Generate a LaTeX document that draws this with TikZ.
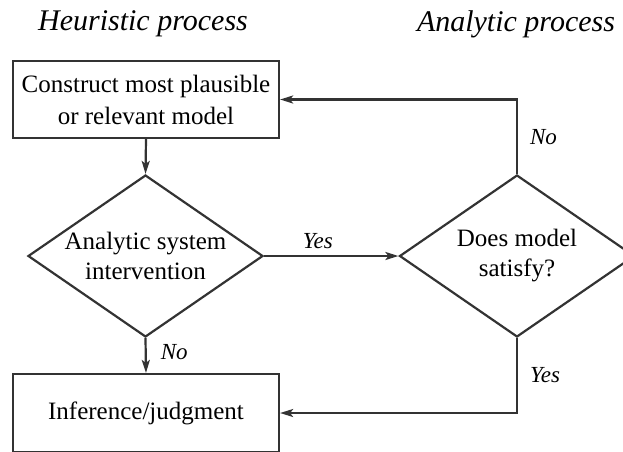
\documentclass[tikz,border=0pt]{standalone}
\usepackage{fontspec}
\setmainfont{Liberation Serif}
\usetikzlibrary{shapes.geometric,arrows.meta}
\begin{document}
\begin{tikzpicture}[x=1pt,y=-1pt,
  line/.style={draw=black!80, line width=2.2pt},
  arr/.style={line, -{Stealth[length=13pt,width=8pt,inset=3pt]}},
  box/.style={line, rectangle, minimum width=266pt, inner sep=0pt, align=center, font=\fontsize{25}{32}\selectfont},
  dia/.style={line, diamond, minimum width=235pt, minimum height=162pt, inner sep=0pt},
  dtext/.style={align=center, font=\fontsize{25}{30}\selectfont},
  lbl/.style={font=\fontsize{23}{26}\selectfont\itshape, inner sep=1pt},
  title/.style={font=\fontsize{30}{34}\selectfont\itshape}]
\useasboundingbox (0,0) rectangle (623,451);
\node[title] (th) at (143,24) {Heuristic process};
\node[title] (ta) at (516,24) {Analytic process};
\node[box, minimum height=77pt] (b1) at (146,99.5) {Construct most plausible\\or relevant model};
\node[dia, label={[dtext]center:Analytic system\\intervention}] (d1) at (145.5,256) {};
\node[dia, label={[dtext]center:Does model\\satisfy?}] (d2) at (517,256) {};
\node[box, minimum height=78pt] (b2) at (146,413) {Inference/judgment};
\draw[arr] (b1.south) -- (d1.north);
\draw[arr] (d1.east) -- node[lbl, above=5pt, pos=0.4] (yes1) {Yes} (d2.west);
\draw[arr] (d1.south) -- node[lbl, right=13pt, pos=0.4] (no1) {No} (b2.north);
\draw[arr] (d2.north) -- node[lbl, right=11pt, pos=0.5] (no2) {No} (d2.north |- b1.east) -- (b1.east);
\draw[arr] (d2.south) -- node[lbl, right=11pt, pos=0.5] (yes2) {Yes} (d2.south |- b2.east) -- (b2.east);
\end{tikzpicture}
\end{document}
